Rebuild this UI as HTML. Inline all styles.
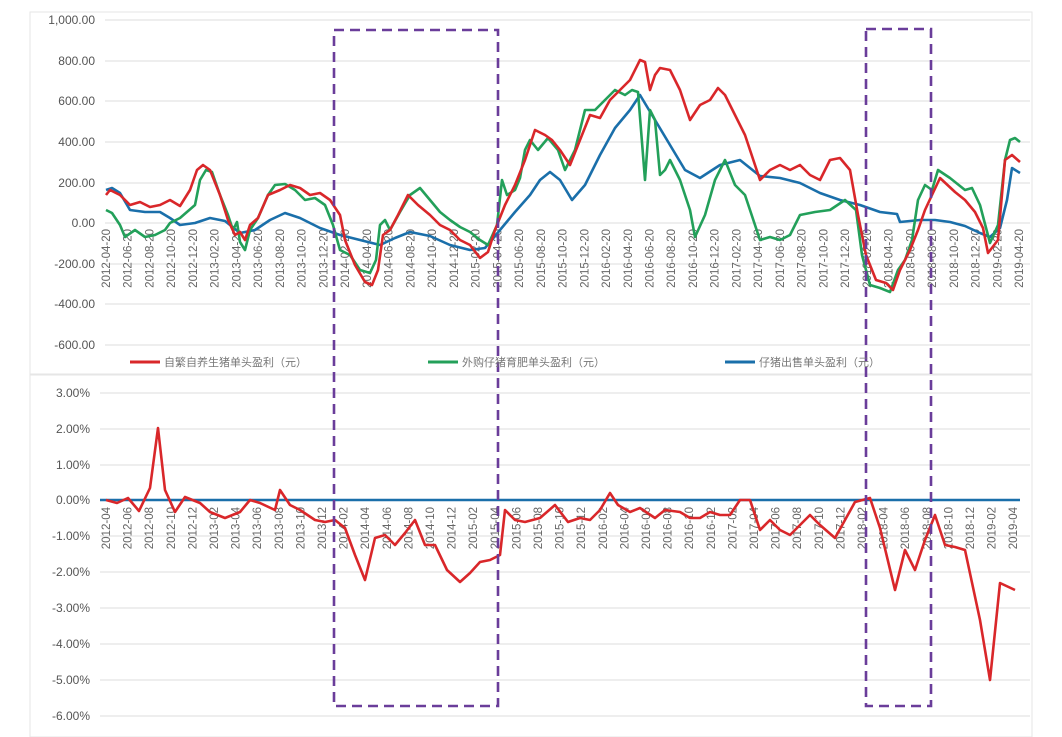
<!DOCTYPE html>
<html><head><meta charset="utf-8"><style>
html,body{margin:0;padding:0;background:#fff;}
svg{display:block;font-family:"Liberation Sans","Noto Sans CJK SC",sans-serif;}
.yl{font-size:12px;fill:#555;text-anchor:end;}
.xl{font-size:11.5px;fill:#666;text-anchor:end;}
.g{stroke:#dcdcdc;stroke-width:1;}
</style></head><body>
<svg width="1062" height="737" viewBox="0 0 1062 737">
<rect x="30" y="12" width="1002" height="362" fill="none" stroke="#e6e6e6"/>
<rect x="30" y="375" width="1002" height="362" fill="none" stroke="#e6e6e6"/>
<g class="g">
<line x1="105" y1="20" x2="1030" y2="20"/><line x1="105" y1="61" x2="1030" y2="61"/><line x1="105" y1="101" x2="1030" y2="101"/><line x1="105" y1="142" x2="1030" y2="142"/><line x1="105" y1="183" x2="1030" y2="183"/><line x1="105" y1="223" x2="1030" y2="223"/><line x1="105" y1="264" x2="1030" y2="264"/><line x1="105" y1="304" x2="1030" y2="304"/><line x1="105" y1="345" x2="1030" y2="345"/>
<line x1="100" y1="393" x2="1030" y2="393"/><line x1="100" y1="429" x2="1030" y2="429"/><line x1="100" y1="465" x2="1030" y2="465"/><line x1="100" y1="536" x2="1030" y2="536"/><line x1="100" y1="572" x2="1030" y2="572"/><line x1="100" y1="608" x2="1030" y2="608"/><line x1="100" y1="644" x2="1030" y2="644"/><line x1="100" y1="680" x2="1030" y2="680"/><line x1="100" y1="716" x2="1030" y2="716"/>
</g>
<g class="yl">
<text x="95" y="24">1,000.00</text><text x="95" y="65">800.00</text><text x="95" y="105">600.00</text><text x="95" y="146">400.00</text><text x="95" y="187">200.00</text><text x="95" y="227">0.00</text><text x="95" y="268">-200.00</text><text x="95" y="308">-400.00</text><text x="95" y="349">-600.00</text>
<text x="90" y="397">3.00%</text><text x="90" y="433">2.00%</text><text x="90" y="469">1.00%</text><text x="90" y="504">0.00%</text><text x="90" y="540">-1.00%</text><text x="90" y="576">-2.00%</text><text x="90" y="612">-3.00%</text><text x="90" y="648">-4.00%</text><text x="90" y="684">-5.00%</text><text x="90" y="720">-6.00%</text>
</g>
<g class="xl">
<text transform="translate(110,229) rotate(-90)">2012-04-20</text><text transform="translate(131.7,229) rotate(-90)">2012-06-20</text><text transform="translate(153.5,229) rotate(-90)">2012-08-20</text><text transform="translate(175.2,229) rotate(-90)">2012-10-20</text><text transform="translate(197,229) rotate(-90)">2012-12-20</text><text transform="translate(218.7,229) rotate(-90)">2013-02-20</text><text transform="translate(240.4,229) rotate(-90)">2013-04-20</text><text transform="translate(262.2,229) rotate(-90)">2013-06-20</text><text transform="translate(283.9,229) rotate(-90)">2013-08-20</text><text transform="translate(305.7,229) rotate(-90)">2013-10-20</text><text transform="translate(327.4,229) rotate(-90)">2013-12-20</text><text transform="translate(349.1,229) rotate(-90)">2014-02-20</text><text transform="translate(370.9,229) rotate(-90)">2014-04-20</text><text transform="translate(392.6,229) rotate(-90)">2014-06-20</text><text transform="translate(414.4,229) rotate(-90)">2014-08-20</text><text transform="translate(436.1,229) rotate(-90)">2014-10-20</text><text transform="translate(457.8,229) rotate(-90)">2014-12-20</text><text transform="translate(479.6,229) rotate(-90)">2015-02-20</text><text transform="translate(501.3,229) rotate(-90)">2015-04-20</text><text transform="translate(523.1,229) rotate(-90)">2015-06-20</text><text transform="translate(544.8,229) rotate(-90)">2015-08-20</text><text transform="translate(566.5,229) rotate(-90)">2015-10-20</text><text transform="translate(588.3,229) rotate(-90)">2015-12-20</text><text transform="translate(610,229) rotate(-90)">2016-02-20</text><text transform="translate(631.8,229) rotate(-90)">2016-04-20</text><text transform="translate(653.5,229) rotate(-90)">2016-06-20</text><text transform="translate(675.2,229) rotate(-90)">2016-08-20</text><text transform="translate(697,229) rotate(-90)">2016-10-20</text><text transform="translate(718.7,229) rotate(-90)">2016-12-20</text><text transform="translate(740.5,229) rotate(-90)">2017-02-20</text><text transform="translate(762.2,229) rotate(-90)">2017-04-20</text><text transform="translate(783.9,229) rotate(-90)">2017-06-20</text><text transform="translate(805.7,229) rotate(-90)">2017-08-20</text><text transform="translate(827.4,229) rotate(-90)">2017-10-20</text><text transform="translate(849.2,229) rotate(-90)">2017-12-20</text><text transform="translate(870.9,229) rotate(-90)">2018-02-20</text><text transform="translate(892.6,229) rotate(-90)">2018-04-20</text><text transform="translate(914.4,229) rotate(-90)">2018-06-20</text><text transform="translate(936.1,229) rotate(-90)">2018-08-20</text><text transform="translate(957.9,229) rotate(-90)">2018-10-20</text><text transform="translate(979.6,229) rotate(-90)">2018-12-20</text><text transform="translate(1001.3,229) rotate(-90)">2019-02-20</text><text transform="translate(1023,229) rotate(-90)">2019-04-20</text>
</g>
<g class="xl">
<text transform="translate(110,507) rotate(-90)">2012-04</text><text transform="translate(131.6,507) rotate(-90)">2012-06</text><text transform="translate(153.2,507) rotate(-90)">2012-08</text><text transform="translate(174.8,507) rotate(-90)">2012-10</text><text transform="translate(196.4,507) rotate(-90)">2012-12</text><text transform="translate(218,507) rotate(-90)">2013-02</text><text transform="translate(239.6,507) rotate(-90)">2013-04</text><text transform="translate(261.2,507) rotate(-90)">2013-06</text><text transform="translate(282.8,507) rotate(-90)">2013-08</text><text transform="translate(304.4,507) rotate(-90)">2013-10</text><text transform="translate(326,507) rotate(-90)">2013-12</text><text transform="translate(347.6,507) rotate(-90)">2014-02</text><text transform="translate(369.2,507) rotate(-90)">2014-04</text><text transform="translate(390.8,507) rotate(-90)">2014-06</text><text transform="translate(412.4,507) rotate(-90)">2014-08</text><text transform="translate(434,507) rotate(-90)">2014-10</text><text transform="translate(455.6,507) rotate(-90)">2014-12</text><text transform="translate(477.2,507) rotate(-90)">2015-02</text><text transform="translate(498.8,507) rotate(-90)">2015-04</text><text transform="translate(520.4,507) rotate(-90)">2015-06</text><text transform="translate(542,507) rotate(-90)">2015-08</text><text transform="translate(563.6,507) rotate(-90)">2015-10</text><text transform="translate(585.2,507) rotate(-90)">2015-12</text><text transform="translate(606.8,507) rotate(-90)">2016-02</text><text transform="translate(628.4,507) rotate(-90)">2016-04</text><text transform="translate(650,507) rotate(-90)">2016-06</text><text transform="translate(671.6,507) rotate(-90)">2016-08</text><text transform="translate(693.2,507) rotate(-90)">2016-10</text><text transform="translate(714.8,507) rotate(-90)">2016-12</text><text transform="translate(736.4,507) rotate(-90)">2017-02</text><text transform="translate(758,507) rotate(-90)">2017-04</text><text transform="translate(779.6,507) rotate(-90)">2017-06</text><text transform="translate(801.2,507) rotate(-90)">2017-08</text><text transform="translate(822.8,507) rotate(-90)">2017-10</text><text transform="translate(844.4,507) rotate(-90)">2017-12</text><text transform="translate(866,507) rotate(-90)">2018-02</text><text transform="translate(887.6,507) rotate(-90)">2018-04</text><text transform="translate(909.2,507) rotate(-90)">2018-06</text><text transform="translate(930.8,507) rotate(-90)">2018-08</text><text transform="translate(952.4,507) rotate(-90)">2018-10</text><text transform="translate(974,507) rotate(-90)">2018-12</text><text transform="translate(995.6,507) rotate(-90)">2019-02</text><text transform="translate(1017.2,507) rotate(-90)">2019-04</text>
</g>
<g fill="none" stroke-width="2.6" stroke-linejoin="round">
<polyline stroke="#1a6faa" points="106,190 112,188 120,193 130,210 145,212 160,212 170,218 180,225 195,223 210,218 225,221 240,233 255,230 270,220 285,213 300,218 320,228 340,235 360,240 380,245 395,238 410,232 430,236 450,245 470,250 485,248 500,230 515,212 530,195 540,180 550,172 560,180 572,200 585,185 600,155 615,128 630,110 640,95 655,120 670,145 685,170 700,178 720,165 740,160 760,176 780,178 800,183 820,193 840,200 860,205 880,212 897,214 900,222 920,220 935,220 950,222 965,226 980,233 990,237 1000,228 1007,200 1012,168 1020,173"/>
<polyline stroke="#23a05a" points="106,210 112,213 120,225 125,237 135,230 145,237 155,235 165,230 170,223 180,218 195,205 200,180 206,170 212,172 220,195 228,215 233,230 237,222 240,242 245,250 250,230 258,218 268,195 275,185 285,184 295,190 305,200 315,198 325,205 333,225 340,250 350,255 360,270 370,273 376,260 380,225 385,220 390,230 400,212 410,195 420,188 430,200 440,212 450,220 460,227 470,232 480,240 488,245 497,225 502,180 507,195 515,190 520,178 525,150 530,140 538,150 548,138 558,150 565,170 575,150 585,110 595,110 605,100 615,90 625,95 632,90 638,92 645,180 650,110 655,120 660,175 665,170 670,160 680,180 690,210 695,237 705,215 715,180 725,160 735,185 745,195 760,240 770,237 780,240 790,235 800,215 815,212 830,210 845,200 856,210 862,255 870,285 880,288 890,292 898,270 905,260 912,240 918,200 925,185 932,190 938,170 950,178 965,190 972,188 980,205 990,243 998,225 1005,160 1010,140 1015,138 1020,142"/>
<polyline stroke="#d9272a" points="106,195 110,190 120,195 130,205 140,202 150,207 160,205 170,200 180,206 190,190 197,170 203,165 210,170 220,195 228,220 235,235 240,232 245,240 250,225 258,218 268,195 280,190 290,185 300,188 310,195 320,193 330,200 340,215 345,240 355,265 365,282 372,285 378,270 383,235 390,230 398,215 408,195 418,205 430,215 440,225 450,230 460,240 470,245 480,258 488,252 495,230 505,205 515,185 525,160 535,130 545,135 552,140 560,150 570,165 578,145 590,115 600,118 610,100 620,90 630,80 640,60 645,62 650,90 655,75 660,68 670,70 680,90 690,120 700,105 710,100 718,88 725,95 735,115 745,135 760,180 770,170 780,165 790,170 800,165 810,175 820,180 830,160 840,158 850,170 858,215 866,255 876,280 886,283 893,290 900,270 910,250 918,230 925,210 932,195 940,178 955,192 965,200 975,212 983,228 988,253 998,240 1005,160 1012,155 1020,162"/>
<line x1="100" y1="500" x2="1020" y2="500" stroke="#1a6faa"/>
<polyline stroke="#d9272a" points="106,500 117,503 128,498 139,511 150,488 158,428 165,490 175,512 185,497 200,503 210,512 225,518 240,512 250,500 260,503 275,510 280,490 290,505 300,510 315,520 325,522 335,520 345,528 355,555 365,580 375,538 385,535 395,545 405,533 415,520 425,545 435,545 447,570 460,582 470,573 480,562 490,560 500,555 505,510 515,520 525,522 540,518 555,505 568,522 580,518 590,520 600,510 610,493 618,505 630,512 640,508 655,518 665,510 680,512 690,518 700,518 710,512 720,515 730,515 740,500 750,500 760,530 770,520 780,530 790,535 800,525 810,515 820,525 835,538 845,520 855,502 870,498 880,528 895,590 905,550 915,570 925,540 935,515 945,545 955,547 965,550 980,620 990,680 1000,583 1015,590"/>
</g>
<g fill="none" stroke="#6a3d9a" stroke-width="2.6" stroke-dasharray="10 6">
<rect x="334" y="30" width="164" height="676"/>
<rect x="866" y="29" width="65" height="677"/>
</g>
<g font-size="11" fill="#777">
<line x1="130" y1="362" x2="160" y2="362" stroke="#d9272a" stroke-width="3"/><text x="164" y="366">自繁自养生猪单头盈利（元）</text>
<line x1="428" y1="362" x2="458" y2="362" stroke="#23a05a" stroke-width="3"/><text x="462" y="366">外购仔猪育肥单头盈利（元）</text>
<line x1="725" y1="362" x2="755" y2="362" stroke="#1a6faa" stroke-width="3"/><text x="759" y="366">仔猪出售单头盈利（元）</text>
</g>
</svg>
</body></html>
